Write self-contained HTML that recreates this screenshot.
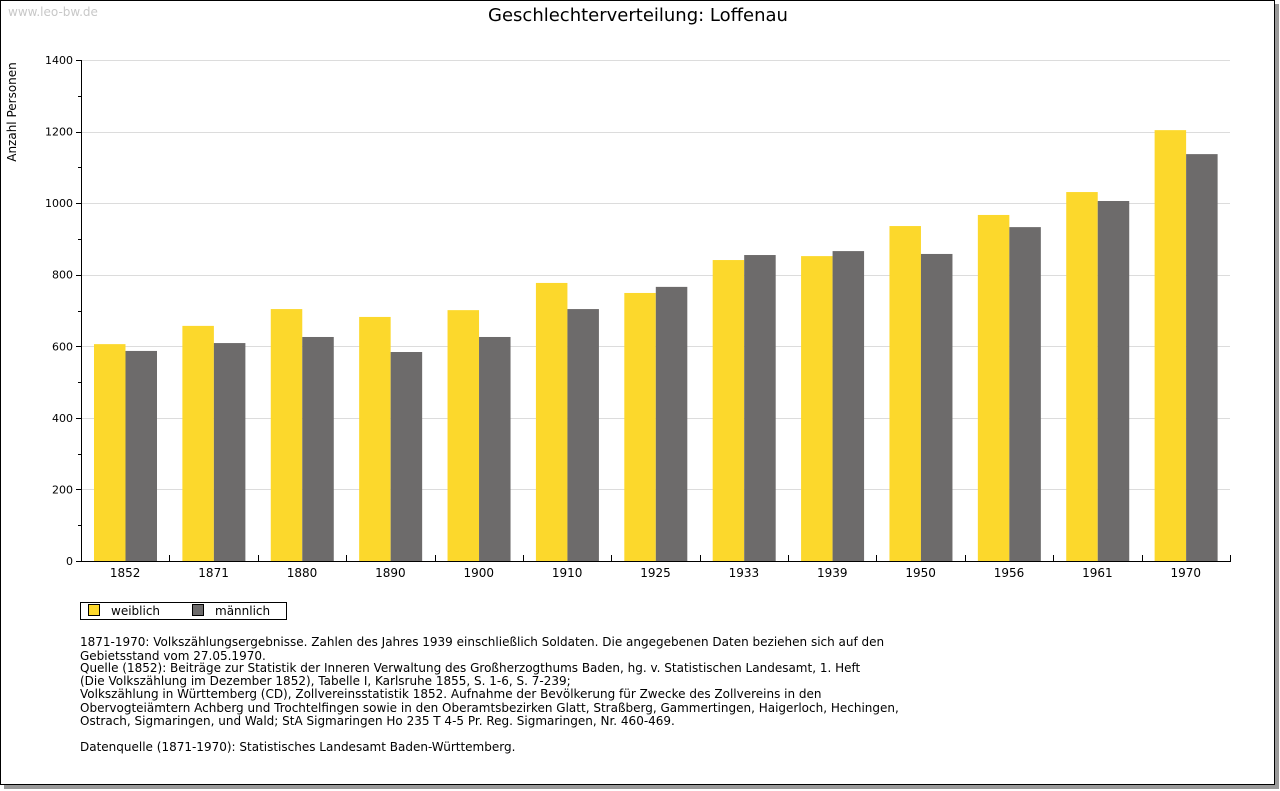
<!DOCTYPE html>
<html><head><meta charset="utf-8"><style>
body{margin:0;background:#fff;font-family:"DejaVu Sans","Liberation Sans",sans-serif;}
svg{display:block}
</style></head><body>
<svg id="c" width="1280" height="791" xmlns="http://www.w3.org/2000/svg" font-family="DejaVu Sans, Liberation Sans, sans-serif">
<rect x="4" y="4" width="1275" height="785" fill="#999"/>
<rect x="0.5" y="0.5" width="1274" height="784" fill="#fff" stroke="#000"/>
<text x="8" y="16" font-size="12" fill="#c8c8c8">www.leo-bw.de</text>
<text x="638" y="21" font-size="18" text-anchor="middle" fill="#000">Geschlechterverteilung: Loffenau</text>
<text transform="translate(16,112) rotate(-90)" font-size="12" text-anchor="middle">Anzahl Personen</text>
<g id="grid"></g><g id="bars"></g><g id="axes"></g>
<g>
<rect x="80.5" y="602.5" width="206" height="17" fill="#fff" stroke="#000"/>
<rect x="88.5" y="604.5" width="11" height="11" fill="#fcd82c" stroke="#000"/>
<text x="111" y="615" font-size="12">weiblich</text>
<rect x="192.5" y="604.5" width="11" height="11" fill="#6d6b6b" stroke="#000"/>
<text x="215" y="615" font-size="12">männlich</text>
</g>
<g font-size="12" fill="#000">
<text x="80" y="646">1871-1970: Volkszählungsergebnisse. Zahlen des Jahres 1939 einschließlich Soldaten. Die angegebenen Daten beziehen sich auf den</text>
<text x="80" y="660">Gebietsstand vom 27.05.1970.</text>
<text x="80" y="672">Quelle (1852): Beiträge zur Statistik der Inneren Verwaltung des Großherzogthums Baden, hg. v. Statistischen Landesamt, 1. Heft</text>
<text x="80" y="685">(Die Volkszählung im Dezember 1852), Tabelle I, Karlsruhe 1855, S. 1-6, S. 7-239;</text>
<text x="80" y="698">Volkszählung in Württemberg (CD), Zollvereinsstatistik 1852. Aufnahme der Bevölkerung für Zwecke des Zollvereins in den</text>
<text x="80" y="712">Obervogteiämtern Achberg und Trochtelfingen sowie in den Oberamtsbezirken Glatt, Straßberg, Gammertingen, Haigerloch, Hechingen,</text>
<text x="80" y="725">Ostrach, Sigmaringen, und Wald; StA Sigmaringen Ho 235 T 4-5 Pr. Reg. Sigmaringen, Nr. 460-469.</text>
<text x="80" y="751">Datenquelle (1871-1970): Statistisches Landesamt Baden-Württemberg.</text>
</g>
</svg>
<script>
const categories=["1852","1871","1880","1890","1900","1910","1925","1933","1939","1950","1956","1961","1970"];
const weiblich=[606,657,704,682,701,777,749,841,852,936,967,1031,1204];
const maennlich=[587,609,626,584,626,704,766,855,866,858,933,1006,1137];
const yTicks=[0,200,400,600,800,1000,1200,1400];
const NS="http://www.w3.org/2000/svg";
const X0=81,X1=1230,Y0=561,Y1=60,YMAX=1400;
const y=v=>Y0-(v/YMAX)*(Y0-Y1);
const bw=(X1-X0)/categories.length;
const x=i=>X0+i*bw;
function mk(t,a,p){const e=document.createElementNS(NS,t);for(const k in a)e.setAttribute(k,a[k]);p.appendChild(e);return e;}
const grid=document.getElementById('grid'),bars=document.getElementById('bars'),axes=document.getElementById('axes');
yTicks.forEach(v=>{
 if(v>0){const g=mk('line',{x1:X0,x2:X1,y1:Math.round(y(v))+.5,y2:Math.round(y(v))+.5,stroke:'#dcdcdc'},grid);
 
 }
 const t=mk('text',{x:X0-8,y:y(v)+4,'font-size':11,'text-anchor':'end'},axes);t.textContent=v;
 
 
});
for(let v=0;v<=YMAX;v+=100){const yy=Math.round(y(v))+.5;
 const tk=mk('line',{x1:v%200===0?X0-5:X0-3,x2:X0,y1:yy,y2:yy,stroke:'#000'},axes);
 
 }
const w=31.5;
categories.forEach((c,i)=>{
 const bx=x(i)+13;
 const r1=mk('rect',{x:bx,y:y(weiblich[i]),width:w,height:Y0-y(weiblich[i]),fill:'#fcd82c'},bars);
 
 
 const r2=mk('rect',{x:bx+w,y:y(maennlich[i]),width:w,height:Y0-y(maennlich[i]),fill:'#6d6b6b'},bars);
 
 
 const t=mk('text',{x:x(i)+bw/2,y:Y0+16,'font-size':12,'text-anchor':'middle'},axes);t.textContent=c;
 
 
 if(i>0){const xx=Math.round(x(i))+.5;const tk=mk('line',{x1:xx,x2:xx,y1:Y0-6,y2:Y0,stroke:'#000'},axes);
 
 }
});
const ya=mk('line',{x1:X0+.5,x2:X0+.5,y1:Y1,y2:Y0,stroke:'#000'},axes);


const xa=mk('line',{x1:X0,x2:X1+1,y1:Y0+.5,y2:Y0+.5,stroke:'#000'},axes);


const xe=mk('line',{x1:X1+.5,x2:X1+.5,y1:Y0-6,y2:Y0,stroke:'#000'},axes);


</script>
</body></html>
